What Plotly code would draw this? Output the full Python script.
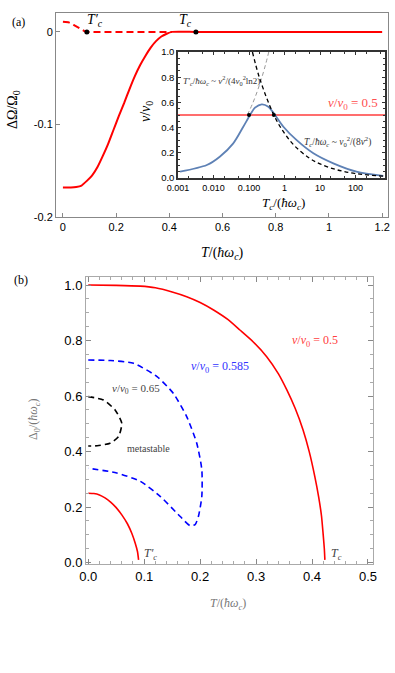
import plotly.graph_objects as go

W, H = 395, 673

# ---- panel (a): grand potential difference vs T ----
t_solid = [0, 0.03, 0.05, 0.07, 0.09, 0.11, 0.13, 0.15, 0.17, 0.19, 0.21, 0.23, 0.25, 0.27, 0.29, 0.31,
           0.33, 0.35, 0.37, 0.39, 0.41, 0.5, 0.8, 1.2]
dom_solid = [-0.168, -0.168, -0.1675, -0.166, -0.161, -0.155, -0.146, -0.134, -0.121, -0.106, -0.091, -0.077,
             -0.062, -0.048, -0.036, -0.026, -0.017, -0.010, -0.005, -0.002, 0, 0, 0, 0]
t_dash = [0, 0.02, 0.04, 0.06, 0.08, 0.09, 0.2, 0.3, 0.41]
dom_dash = [0.011, 0.0105, 0.0075, 0.004, 0.001, 0, 0, 0, 0]
t_marks = [0.09, 0.5]
dom_marks = [0, 0]

# ---- inset: v/v0 vs Tc ----
tc_blue = [0.00114, 0.0065, 0.015, 0.036, 0.069, 0.107, 0.148, 0.228, 0.35, 0.54, 0.93, 2.2, 6.5, 23.7, 106, 600]
v_blue = [0.05, 0.103, 0.169, 0.275, 0.407, 0.5, 0.558, 0.585, 0.566, 0.5, 0.407, 0.30, 0.196, 0.116, 0.05, 0.016]
tc_asym = [0.125, 0.2, 0.5, 1, 2, 5, 10, 30, 100, 600]
v_asym = [1.0, 0.79, 0.5, 0.354, 0.25, 0.158, 0.112, 0.065, 0.035, 0.0144]
tc_asym2 = [0.09, 0.13, 0.177, 0.231, 0.292, 0.36]
v_asym2 = [0.5, 0.6, 0.7, 0.8, 0.9, 1.0]
tc_pts = [0.1, 0.5]
v_pts = [0.5, 0.5]

# ---- panel (b): gap vs T ----
t_red1 = [0, 0.05, 0.093, 0.12, 0.15, 0.176, 0.2, 0.224, 0.25, 0.271, 0.295, 0.319, 0.34, 0.355, 0.37, 0.384,
          0.395, 0.405, 0.412, 0.417, 0.42, 0.422, 0.423]
d_red1 = [1.0, 0.999, 0.996, 0.99, 0.975, 0.958, 0.937, 0.91, 0.875, 0.838, 0.795, 0.742, 0.68, 0.622, 0.555,
          0.478, 0.40, 0.31, 0.235, 0.167, 0.10, 0.05, 0.01]
t_red2 = [0, 0.01, 0.02, 0.03, 0.04, 0.05, 0.06, 0.07, 0.078, 0.084, 0.088, 0.09]
d_red2 = [0.25, 0.249, 0.244, 0.233, 0.218, 0.198, 0.172, 0.14, 0.105, 0.07, 0.04, 0.01]
t_blue = [0, 0.04, 0.081, 0.123, 0.152, 0.176, 0.194, 0.203, 0.203, 0.197, 0.191, 0.182, 0.164, 0.129, 0.093, 0.051, 0]
d_blue = [0.73, 0.728, 0.718, 0.67, 0.61, 0.526, 0.43, 0.335, 0.238, 0.167, 0.137, 0.133, 0.167, 0.238, 0.293, 0.323, 0.34]
t_black = [0, 0.027, 0.048, 0.06, 0.054, 0.039, 0.016, 0]
d_black = [0.598, 0.586, 0.55, 0.502, 0.454, 0.43, 0.421, 0.42]


def px(x0, x1):
    return [x0 / W, x1 / W]


def py(y_top, y_bot):
    return [1 - y_bot / H, 1 - y_top / H]


fig = go.Figure()
RED = "#ff0000"

# panel (a)
fig.add_trace(go.Scatter(x=t_dash, y=dom_dash, mode="lines", line=dict(color=RED, width=2, dash="7px,4px"),
                         xaxis="x", yaxis="y"))
fig.add_trace(go.Scatter(x=t_solid, y=dom_solid, mode="lines", line=dict(color=RED, width=2, shape="spline", smoothing=0.5),
                         xaxis="x", yaxis="y"))
fig.add_trace(go.Scatter(x=t_marks, y=dom_marks, mode="markers", marker=dict(color="black", size=5),
                         xaxis="x", yaxis="y"))

# inset
fig.add_trace(go.Scatter(x=[0.001, 700], y=[0.5, 0.5], mode="lines", line=dict(color="rgba(255,60,60,0.75)", width=2),
                         xaxis="x2", yaxis="y2"))
fig.add_trace(go.Scatter(x=tc_asym2, y=v_asym2, mode="lines", line=dict(color="#999999", width=1, dash="4px,3px", shape="spline"),
                         xaxis="x2", yaxis="y2"))
fig.add_trace(go.Scatter(x=tc_blue, y=v_blue, mode="lines", line=dict(color="#5e81b5", width=1.8, shape="spline", smoothing=0.8),
                         xaxis="x2", yaxis="y2"))
fig.add_trace(go.Scatter(x=tc_asym, y=v_asym, mode="lines", line=dict(color="black", width=1.3, dash="4px,3px", shape="spline"),
                         xaxis="x2", yaxis="y2"))
fig.add_trace(go.Scatter(x=tc_pts, y=v_pts, mode="markers", marker=dict(color="black", size=4),
                         xaxis="x2", yaxis="y2"))

# panel (b)
fig.add_trace(go.Scatter(x=t_red1, y=d_red1, mode="lines", line=dict(color=RED, width=1.6, shape="spline", smoothing=0.5),
                         xaxis="x3", yaxis="y3"))
fig.add_trace(go.Scatter(x=t_red2, y=d_red2, mode="lines", line=dict(color=RED, width=1.6, shape="spline", smoothing=0.5),
                         xaxis="x3", yaxis="y3"))
fig.add_trace(go.Scatter(x=t_blue, y=d_blue, mode="lines", line=dict(color="#0000ff", width=1.6, dash="6px,4px", shape="spline", smoothing=0.6),
                         xaxis="x3", yaxis="y3"))
fig.add_trace(go.Scatter(x=t_black, y=d_black, mode="lines", line=dict(color="black", width=1.6, dash="6px,4px", shape="spline", smoothing=0.6),
                         xaxis="x3", yaxis="y3"))

SANS = "Liberation Sans, Arial, sans-serif"
SERIF = "Liberation Serif, DejaVu Serif, serif"
frame = dict(showline=True, linecolor="#888888", linewidth=1, mirror=True, showgrid=False, zeroline=False,
             ticks="inside", tickcolor="#888888", ticklen=4, automargin=False, ticklabeloverflow="allow")
inset_frame = dict(showline=True, linecolor="#333333", linewidth=1.5, mirror="allticks", ticks="inside", ticklen=3,
                   tickcolor="#333333", showgrid=False, zeroline=False, automargin=False, ticklabeloverflow="allow")
b_frame = dict(showline=True, linecolor="#aaaaaa", linewidth=1, mirror="allticks", ticks="inside", ticklen=5,
               tickcolor="#888888", showgrid=False, zeroline=False, automargin=False, ticklabeloverflow="allow")

fig.update_layout(
    template="none",
    width=W, height=H, margin=dict(l=0, r=0, t=0, b=0, autoexpand=False),
    paper_bgcolor="white", plot_bgcolor="rgba(0,0,0,0)", showlegend=False,
    xaxis=dict(domain=px(56, 388), range=[-0.026, 1.222], tickvals=[0, 0.2, 0.4, 0.6, 0.8, 1, 1.2],
               ticktext=["0", "0.2", "0.4", "0.6", "0.8", "1", "1.2"], tickfont=dict(family=SANS, size=11, color="black"),
               **frame),
    yaxis=dict(domain=py(13, 217), range=[-0.2, 0.0204], tickvals=[0, -0.1, -0.2], ticktext=["0", "-0.1", "-0.2"],
               tickfont=dict(family=SANS, size=11, color="black"), **frame),
    xaxis2=dict(domain=px(178, 385), type="log", range=[-3.0, 2.83], anchor="y2",
                tickvals=[0.001, 0.01, 0.1, 1, 10, 100], ticktext=["0.001", "0.010", "0.100", "1", "10", "100"],
                tickfont=dict(family=SANS, size=9, color="black"),
                minor=dict(ticks="inside", ticklen=2, tickcolor="#333333"), **inset_frame),
    yaxis2=dict(domain=py(52, 178), range=[0, 1], anchor="x2", tickvals=[0, 0.2, 0.4, 0.6, 0.8, 1.0],
                ticktext=["0.0", "0.2", "0.4", "0.6", "0.8", "1.0"], tickfont=dict(family=SANS, size=9.5, color="black"),
                minor=dict(ticks="inside", ticklen=2, tickcolor="#333333", dtick=0.05), **inset_frame),
    xaxis3=dict(domain=px(86, 373), range=[-0.004, 0.509], anchor="y3", tickvals=[0, 0.1, 0.2, 0.3, 0.4, 0.5],
                ticktext=["0.0", "0.1", "0.2", "0.3", "0.4", "0.5"], tickfont=dict(family=SANS, size=13, color="black"),
                minor=dict(ticks="inside", ticklen=3, tickcolor="#aaaaaa", dtick=0.02), **b_frame),
    yaxis3=dict(domain=py(277, 564), range=[-0.005, 1.029], anchor="x3", tickvals=[0, 0.2, 0.4, 0.6, 0.8, 1.0],
                ticktext=["0.0", "0.2", "0.4", "0.6", "0.8", "1.0"], tickfont=dict(family=SANS, size=13, color="black"),
                minor=dict(ticks="inside", ticklen=3, tickcolor="#aaaaaa", dtick=0.05), **b_frame),
)


def note(text, x, y, xref="paper", yref="paper", size=12, color="black", family=SERIF, angle=0, xa="center", ya="middle"):
    fig.add_annotation(text=text, x=x, y=y, xref=xref, yref=yref, showarrow=False, textangle=angle,
                       font=dict(family=family, size=size, color=color), xanchor=xa, yanchor=ya)


# panel labels and axis titles (paper coordinates from pixels)
note("(a)", 18 / W, 1 - 22 / H, size=12)
note("(b)", 21 / W, 1 - 280 / H, size=12)
note("ΔΩ/Ω<sub>0</sub>", 14 / W, 1 - 110 / H, size=14, angle=-90)
note("<i>T</i>/(<i>ħω<sub>c</sub></i>)", 222 / W, 1 - 253 / H, size=14)
note("<i>v</i>/<i>v</i><sub>0</sub>", 147 / W, 1 - 112 / H, size=14, angle=-90)
note("<i>T<sub>c</sub></i>/(<i>ħω<sub>c</sub></i>)", 283 / W, 1 - 203 / H, size=13)
note("Δ<sub>0</sub>/(<i>ħω<sub>c</sub></i>)", 34 / W, 1 - 420 / H, size=12, color="#777777", angle=-90)
note("<i>T</i>/(<i>ħω<sub>c</sub></i>)", 228 / W, 1 - 604 / H, size=12, color="#777777")

# panel (a) markers labels
note("<i>T′<sub>c</sub></i>", 0.12, 0.0125, "x", "y", size=14)
note("<i>T<sub>c</sub></i>", 0.46, 0.0125, "x", "y", size=14)

# inset labels
note("<i>T′<sub>c</sub></i>/<i>ħω<sub>c</sub></i> ~ <i>v</i><sup>2</sup>/(4<i>v</i><sub>0</sub><sup>2</sup>ln2)",
     -2.92, 0.77, "x2", "y2", size=9, color="#333333", xa="left")
note("<i>v</i>/<i>v</i><sub>0</sub> = 0.5", 1.93, 0.59, "x2", "y2", size=13, color="#ff5050")
note("<i>T<sub>c</sub></i>/<i>ħω<sub>c</sub></i> ~ <i>v</i><sub>0</sub><sup>2</sup>/(8<i>v</i><sup>2</sup>)",
     0.5, 0.29, "x2", "y2", size=9.5, color="#333333", xa="left")

# panel (b) labels
note("<i>v</i>/<i>v</i><sub>0</sub> = 0.5", 0.405, 0.80, "x3", "y3", size=12, color="#ff4040")
note("<i>v</i>/<i>v</i><sub>0</sub> = 0.585", 0.235, 0.705, "x3", "y3", size=12, color="#3333ff")
note("<i>v</i>/<i>v</i><sub>0</sub> = 0.65", 0.085, 0.625, "x3", "y3", size=11, color="#444444")
note("metastable", 0.107, 0.41, "x3", "y3", size=10, color="#444444")
note("<i>T′<sub>c</sub></i>", 0.112, 0.03, "x3", "y3", size=12, color="#444444")
note("<i>T<sub>c</sub></i>", 0.443, 0.03, "x3", "y3", size=12, color="#444444")

# drop the default page margin so the figure sits at the window's top-left corner
fig.write_html("out.html", config={"displayModeBar": False},
               post_script="document.body.style.margin='0';")
